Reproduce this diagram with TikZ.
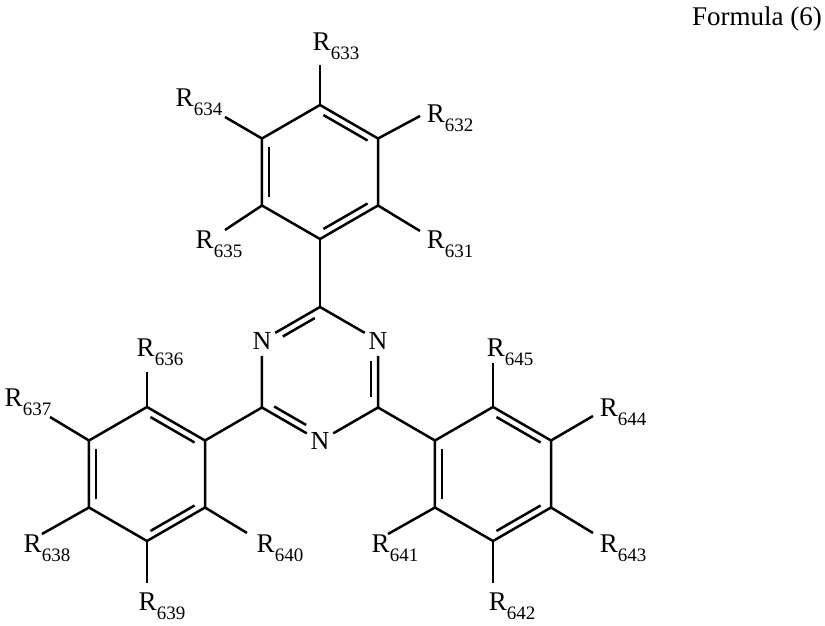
\documentclass[tikz,border=0pt]{standalone}
\usepackage{fontspec}
\setmainfont{Liberation Serif}
\usetikzlibrary{calc}
\newcommand{\Rl}[1]{R\raisebox{-0.32em}{\fontsize{19}{19}\selectfont #1}}
\newcommand{\hexpts}[4]{%
  \coordinate (#1c) at (#2,#3);
  \coordinate (#11) at (#2,#3-#4);
  \coordinate (#12) at (#2+0.866*#4,#3-0.5*#4);
  \coordinate (#13) at (#2+0.866*#4,#3+0.5*#4);
  \coordinate (#14) at (#2,#3+#4);
  \coordinate (#15) at (#2-0.866*#4,#3+0.5*#4);
  \coordinate (#16) at (#2-0.866*#4,#3-0.5*#4);}
\begin{document}
\begin{tikzpicture}[x=1pt,y=-1pt,line width=2.5pt,
  bond/.style={line width=2.5pt},
  lab/.style={font=\fontsize{27}{31}\selectfont,inner sep=0pt},
  natom/.style={font=\fontsize{26}{30}\selectfont,inner sep=1pt,circle}]
\useasboundingbox (0,0) rectangle (825,626);
\node[lab,anchor=north east] (title) at (823,6) {Formula (6)};
% rings
\hexpts{T}{320}{172}{67}
\hexpts{L}{147}{474}{67}
\hexpts{P}{493}{474}{67}
\hexpts{Z}{320}{374}{67}
\foreach \h in {T,L,P}{
  \draw[bond] (\h1)--(\h2)--(\h3)--(\h4)--(\h5)--(\h6)--cycle;
  \draw[bond,shorten <=4pt,shorten >=4pt] ($(\h1)!0.12!(\h c)$)--($(\h2)!0.12!(\h c)$);
  \draw[bond,shorten <=4pt,shorten >=4pt] ($(\h5)!0.12!(\h c)$)--($(\h6)!0.12!(\h c)$);
  \draw[bond,shorten <=4pt,shorten >=4pt] ($(\h3)!0.12!(\h c)$)--($(\h4)!0.12!(\h c)$);
}
% triazine
\node[natom] (NL) at (Z6) {N};
\node[natom] (NR) at (Z2) {N};
\node[natom] (NB) at (Z4) {N};
\draw[bond] (Z1)--(NL)--(Z5)--(NB)--(Z3)--(NR)--(Z1);
\draw[bond,shorten <=6pt,shorten >=16pt] ($(Z1)!0.12!(Zc)$)--($(Z6)!0.12!(Zc)$);
\draw[bond,shorten <=16pt,shorten >=6pt] ($(Z2)!0.12!(Zc)$)--($(Z3)!0.12!(Zc)$);
\draw[bond,shorten <=6pt,shorten >=16pt] ($(Z5)!0.12!(Zc)$)--($(Z4)!0.12!(Zc)$);
% ring links
\draw[bond] (T4)--(Z1);
\draw[bond] (Z5)--(L2);
\draw[bond] (Z3)--(P6);
% substituents
\foreach \v/\ex/\ey/\lx/\ly/\t in {
  T1/320/65/336/46/633, T2/420/116/450/118/632, T3/420/231/450/244/631,
  T5/225/230/219/244/635, T6/225/117/199/102/634,
  L1/147/372/160/352/636, L6/50/417/28/402/637, L5/42/534/47/548/638,
  L4/147/583/162/606/639, L3/247/533/280/548/640,
  P1/493/363/510/352/645, P2/593/416/623/412/644, P3/593/533/623/548/643,
  P4/493/583/512/606/642, P5/388/534/395/548/641}{
  \coordinate (e\t) at (\ex,\ey);
  \draw[bond] (\v)--(e\t);
  \node[lab] (r\t) at (\lx,\ly) {\Rl{\t}};
}
\end{tikzpicture}
\end{document}
